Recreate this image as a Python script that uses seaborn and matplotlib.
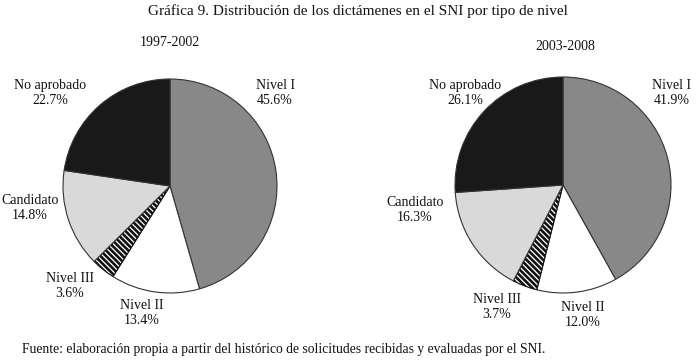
import numpy as np
import seaborn as sns
import matplotlib.pyplot as plt

sns.set_style("white")
plt.rcParams['font.family'] = ['Liberation Serif', 'DejaVu Serif']
plt.rcParams['hatch.linewidth'] = 1.9

# datos
categorias = ["Nivel I", "Nivel II", "Nivel III", "Candidato", "No aprobado"]
periodos = ["1997-2002", "2003-2008"]
pct_1997 = [45.6, 13.4, 3.6, 14.8, 22.7]
pct_2003 = [41.9, 12.0, 3.7, 16.3, 26.1]
colores = ["#888888", "#ffffff", "#ffffff", "#d9d9d9", "#191919"]
tramas = [None, None, "\\" * 6, None, None]

W, H = 700, 361
fig = plt.figure(figsize=(7, 3.61), dpi=100)

def pie_axes(cx, cy, r):
    return fig.add_axes([(cx - r) / W, (H - cy - r) / H, 2 * r / W, 2 * r / H])

# posiciones de etiquetas (px)
etq_izq = [(275, 93), (142, 313), (70, 286), (30, 208), (50, 93)]
etq_der = [(672, 93), (583, 315), (497, 307), (415, 210), (465, 93)]

for (cx, cy, r), vals, etq, per, tpos in [
        ((170, 186, 107), pct_1997, etq_izq, periodos[0], (170, 42)),
        ((563, 185, 108), pct_2003, etq_der, periodos[1], (565, 46))]:
    ax = pie_axes(cx, cy, r)
    wedges, _ = ax.pie(vals, colors=colores, startangle=90, counterclock=False,
                       wedgeprops=dict(edgecolor="#333333", linewidth=0.8))
    for w, h in zip(wedges, tramas):
        if h:
            w.set_hatch(h)
            w.set_edgecolor("#111111")
    ax.set_xlim(-1, 1)
    ax.set_ylim(-1, 1)
    ax.axis("off")
    for cat, v, (px, py) in zip(categorias, vals, etq):
        fig.text(px / W, 1 - py / H, f"{cat}\n{v:.1f}%", ha="center", va="center",
                 fontsize=10, linespacing=1.15, color="#111111")
    fig.text(tpos[0] / W, 1 - tpos[1] / H, per, ha="center", va="center",
             fontsize=10, color="#111111")

fig.text(358 / W, 1 - 11 / H,
         "Gráfica 9. Distribución de los dictámenes en el SNI por tipo de nivel",
         ha="center", va="center", fontsize=11, color="#111111")
fig.text(22 / W, 1 - 350 / H,
         "Fuente: elaboración propia a partir del histórico de solicitudes recibidas y evaluadas por el SNI.",
         ha="left", va="center", fontsize=9.8, color="#111111")

fig.savefig("out.png", dpi=100)
